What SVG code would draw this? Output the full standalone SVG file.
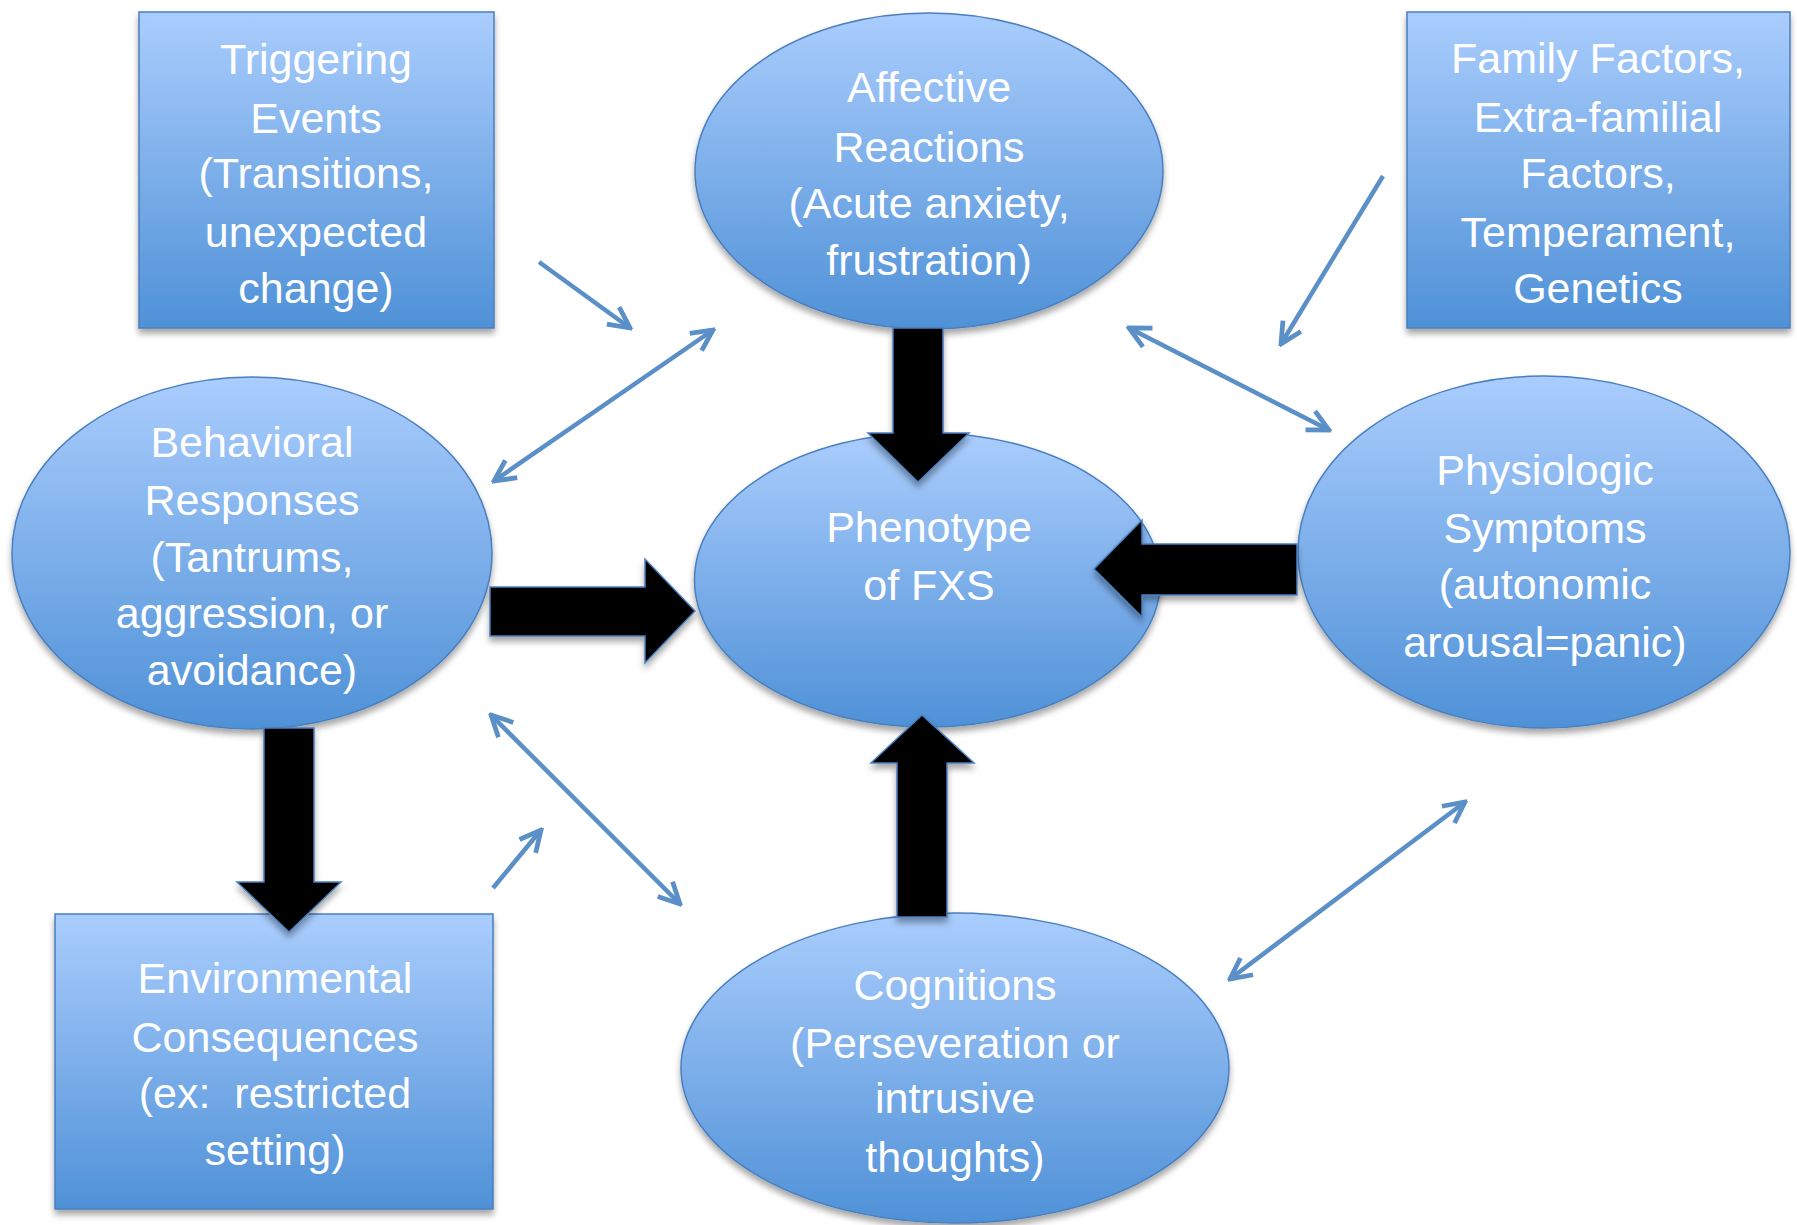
<svg xmlns="http://www.w3.org/2000/svg" width="1797" height="1225" viewBox="0 0 1797 1225">
<defs>
<linearGradient id="bg" x1="0" y1="0" x2="0" y2="1">
<stop offset="0" stop-color="#aacdfd"/>
<stop offset="1" stop-color="#4f91d7"/>
</linearGradient>
<filter id="sh" x="-10%" y="-10%" width="120%" height="125%">
<feDropShadow dx="0" dy="5" stdDeviation="3" flood-color="#000" flood-opacity="0.35"/>
</filter>
<marker id="ah" viewBox="0 0 20 20" refX="18" refY="10" markerWidth="28" markerHeight="28" markerUnits="userSpaceOnUse" orient="auto-start-reverse">
<path d="M3,2.5 L18,10 L3,17.5" fill="none" stroke="#5b8fc8" stroke-width="3.4" stroke-linejoin="miter"/>
</marker>
</defs>
<style>
.shape{fill:url(#bg);stroke:#4a7fbf;stroke-width:1.5;filter:url(#sh)}
.lbl{font-family:"Liberation Sans",Arial,sans-serif;font-size:43px;fill:#ffffff;text-anchor:middle}
.big{fill:#000;stroke:#4a7fbf;stroke-width:1.5;filter:url(#sh)}
.thin{fill:none;stroke:#5b8fc8;stroke-width:4.5}
</style>
<rect width="1797" height="1225" fill="#ffffff"/>

<g id="triggering-events">
<rect class="shape" x="139" y="12" width="355" height="316"/>
<text class="lbl"><tspan x="316" y="74">Triggering</tspan><tspan x="316" y="133">Events</tspan><tspan x="316" y="188">(Transitions,</tspan><tspan x="316" y="247">unexpected</tspan><tspan x="316" y="303">change)</tspan></text>
</g>

<g id="affective-reactions">
<ellipse class="shape" cx="929" cy="171" rx="234" ry="158"/>
<text class="lbl"><tspan x="929" y="102">Affective</tspan><tspan x="929" y="162">Reactions</tspan><tspan x="929" y="218">(Acute anxiety,</tspan><tspan x="929" y="275">frustration)</tspan></text>
</g>

<g id="family-factors">
<rect class="shape" x="1407" y="12" width="383" height="316"/>
<text class="lbl"><tspan x="1598" y="73">Family Factors,</tspan><tspan x="1598" y="132">Extra-familial</tspan><tspan x="1598" y="188">Factors,</tspan><tspan x="1598" y="247">Temperament,</tspan><tspan x="1598" y="303">Genetics</tspan></text>
</g>

<g id="behavioral-responses">
<ellipse class="shape" cx="252" cy="553" rx="240" ry="176"/>
<text class="lbl"><tspan x="252" y="457">Behavioral</tspan><tspan x="252" y="515">Responses</tspan><tspan x="252" y="572">(Tantrums,</tspan><tspan x="252" y="628">aggression, or</tspan><tspan x="252" y="685">avoidance)</tspan></text>
</g>

<g id="phenotype">
<ellipse class="shape" cx="927.5" cy="580" rx="233" ry="147"/>
<text class="lbl"><tspan x="929" y="542">Phenotype</tspan><tspan x="929" y="600">of FXS</tspan></text>
</g>

<g id="physiologic-symptoms">
<ellipse class="shape" cx="1544" cy="552" rx="246" ry="176"/>
<text class="lbl"><tspan x="1545" y="485">Physiologic</tspan><tspan x="1545" y="543">Symptoms</tspan><tspan x="1545" y="599">(autonomic</tspan><tspan x="1545" y="657">arousal=panic)</tspan></text>
</g>

<g id="environmental-consequences">
<rect class="shape" x="55" y="914" width="438" height="295"/>
<text class="lbl"><tspan x="275" y="993">Environmental</tspan><tspan x="275" y="1052">Consequences</tspan><tspan x="275" y="1108" xml:space="preserve">(ex:  restricted</tspan><tspan x="275" y="1165">setting)</tspan></text>
</g>

<g id="cognitions">
<ellipse class="shape" cx="955" cy="1068" rx="274" ry="155"/>
<text class="lbl"><tspan x="955" y="1000">Cognitions</tspan><tspan x="955" y="1058">(Perseveration or</tspan><tspan x="955" y="1113">intrusive</tspan><tspan x="955" y="1172">thoughts)</tspan></text>
</g>

<g id="connectors">
<polygon class="big" points="893,328 943,328 943,433 969,433 918,482 868,433 893,433"/>
<polygon class="big" points="490,587 645,587 645,559 695,611 645,663 645,636 490,636"/>
<polygon class="big" points="1297,544 1142,544 1142,520 1094,569 1142,617 1142,595 1297,595"/>
<polygon class="big" points="897,917 897,763 871,763 922,715 974,763 947,763 947,917"/>
<polygon class="big" points="264,728 314,728 314,882 341,882 289,932 237,882 264,882"/>

<line class="thin" x1="539" y1="262" x2="630" y2="328" marker-end="url(#ah)"/>
<line class="thin" x1="494" y1="481" x2="713" y2="330" marker-start="url(#ah)" marker-end="url(#ah)"/>
<line class="thin" x1="1383" y1="176" x2="1281" y2="344" marker-end="url(#ah)"/>
<line class="thin" x1="1129" y1="328" x2="1329" y2="430" marker-start="url(#ah)" marker-end="url(#ah)"/>
<line class="thin" x1="491" y1="715" x2="680" y2="904" marker-start="url(#ah)" marker-end="url(#ah)"/>
<line class="thin" x1="493" y1="888" x2="541" y2="830" marker-end="url(#ah)"/>
<line class="thin" x1="1230" y1="979" x2="1465" y2="802" marker-start="url(#ah)" marker-end="url(#ah)"/>
</g>
</svg>
